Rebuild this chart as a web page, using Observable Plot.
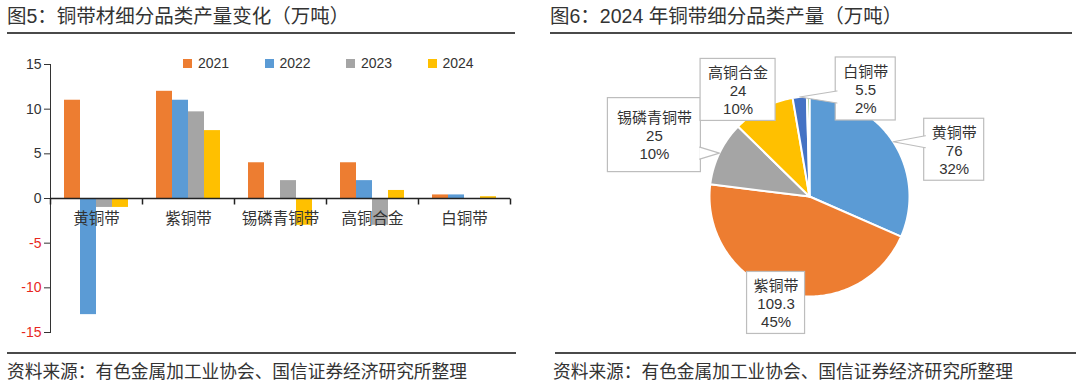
<!DOCTYPE html>
<html>
<head>
<meta charset="utf-8">
<script src="https://cdn.jsdelivr.net/npm/d3@7"></script>
<script src="https://cdn.jsdelivr.net/npm/@observablehq/plot@0.6"></script>
<style>
  html, body { margin: 0; padding: 0; background: #fff; }
  body { width: 1080px; height: 390px; position: relative; overflow: hidden;
         font-family: "Liberation Sans", "Noto Sans CJK SC", sans-serif; color: #333; }
  .title { position: absolute; top: 5px; font-size: 19.5px; line-height: 22px; color: #333;
           font-family: "Liberation Sans", "Noto Sans CJK SC", sans-serif; white-space: nowrap; }
  .rule { position: absolute; height: 2px; background: #4a4a4a; }
  .source { position: absolute; top: 361px; font-size: 17.7px; line-height: 22px; color: #333; white-space: nowrap; }
  .chart { position: absolute; }
  .legend { position: absolute; top: 55px; left: 183px; display: flex; font-size: 14px; color: #333; }
  .legend .item { width: 81.5px; display: flex; align-items: center; }
  .legend .sw { width: 9px; height: 9px; margin-right: 6px; }
</style>
</head>
<body>
<div class="title" style="left:7px">图5：铜带材细分品类产量变化（万吨）</div>
<div class="rule" style="left:7px; width:508px; top:32px"></div>
<div class="title" style="left:550px">图6：2024 年铜带细分品类产量（万吨）</div>
<div class="rule" style="left:550px; width:522px; top:32px"></div>

<div id="bar" class="chart" style="left:0px; top:40px"></div>
<div id="legend" class="legend"></div>
<div id="pie" class="chart" style="left:540px; top:40px"></div>

<div class="rule" style="left:7px; width:509px; top:352px"></div>
<div class="rule" style="left:555px; width:521px; top:352px"></div>
<div class="source" style="left:7px">资料来源：有色金属加工业协会、国信证券经济研究所整理</div>
<div class="source" style="left:553px">资料来源：有色金属加工业协会、国信证券经济研究所整理</div>

<script>
// ---------- Data: bar chart ----------
const categories = ["黄铜带", "紫铜带", "锡磷青铜带", "高铜合金", "白铜带"];
const years = ["2021", "2022", "2023", "2024"];
const v2021 = [11, 12, 4, 4, 0.4];
const v2022 = [-13, 11, 0, 2, 0.4];
const v2023 = [-1, 9.7, 2, -3, 0];
const v2024 = [-1, 7.6, -3, 0.9, 0.2];
const yTicks = [-15, -10, -5, 0, 5, 10, 15];
const barColors = ["#ED7D31", "#5B9BD5", "#A5A5A5", "#FFC000"];

// ---------- Data: pie chart ----------
const pieCats = ["黄铜带", "紫铜带", "锡磷青铜带", "高铜合金", "白铜带", "其他"];
const pieValues = [76, 109.3, 25, 24, 5.5, 1.0];
const pieColors = ["#5B9BD5", "#ED7D31", "#A5A5A5", "#FFC000", "#4472C4", "#70AD47"];
const pieLabelled = [true, true, true, true, true, false];

// ---------- Layout of the pie callouts (px offset from slice edge midpoint, box size) ----------
const calloutLayout = [
  {dx: 61, dy: 8, w: 60, h: 62},
  {dx: -7, dy: 10, w: 58, h: 62},
  {dx: -65, dy: -18, w: 93, h: 74},
  {dx: -25, dy: -18, w: 75, h: 62},
  {dx: 66, dy: -8, w: 60, h: 63}
];

const FONT = '"Liberation Sans", "Noto Sans CJK SC", sans-serif';
const NEG = "#e8281e";

// ---------- Bar chart ----------
const series = [v2021, v2022, v2023, v2024];
const rows = categories.flatMap((c, i) => years.map((yr, j) => ({cat: c, year: yr, value: series[j][i]})));
const tickDown = {draw(ctx) { ctx.moveTo(0, 0); ctx.lineTo(0, 6); }};

const bar = Plot.plot({
  width: 530, height: 305,
  marginLeft: 48, marginRight: 19, marginTop: 24, marginBottom: 13,
  style: {fontFamily: FONT, fontSize: "14px", color: "#333", background: "transparent", overflow: "visible"},
  fx: {domain: categories, padding: 0, axis: null},
  x: {domain: years, paddingInner: 0, paddingOuter: 0.72, axis: null},
  y: {domain: [-15, 15], ticks: yTicks, tickSize: 6, label: null, line: true, tickFormat: d => (d < 0 ? "-" + Math.abs(d) : String(d))},
  color: {domain: years, range: barColors},
  marks: [
    Plot.barY(rows, {fx: "cat", x: "year", y: "value", fill: "year"}),
    Plot.ruleY([0], {stroke: "#222", strokeWidth: 1.5}),
    Plot.dot(categories, {fx: d => d, y: () => 0, frameAnchor: "left", symbol: tickDown, stroke: "#222", strokeWidth: 1.5, fill: "none"}),
    Plot.dot(categories.slice(-1), {fx: d => d, y: () => 0, frameAnchor: "right", symbol: tickDown, stroke: "#222", strokeWidth: 1.5, fill: "none"}),
    Plot.text(categories, {fx: d => d, y: () => 0, text: d => d, dy: 21, fontSize: 15.5, fill: "#333"})
  ]
});
bar.querySelectorAll("text").forEach(t => {
  const s = t.textContent.trim().replace(/\u2212/g, "-");
  if (/^-\d+$/.test(s)) {
    t.setAttribute("fill", NEG);
    t.style.fill = NEG;
    t.querySelectorAll("tspan").forEach(ts => { ts.setAttribute("fill", NEG); ts.style.fill = NEG; });
  }
});
document.getElementById("bar").appendChild(bar);

// legend
const legend = document.getElementById("legend");
years.forEach((yr, j) => {
  const it = document.createElement("div");
  it.className = "item";
  it.innerHTML = `<span class="sw" style="background:${barColors[j]}"></span><span>${yr}</span>`;
  legend.appendChild(it);
});

// ---------- Pie chart ----------
const total = d3.sum(pieValues);
const arcs = d3.pie().sort(null).value(d => d)(pieValues);
const sliceMarks = arcs.map((a, i) => {
  const n = Math.max(2, Math.ceil((a.endAngle - a.startAngle) / (Math.PI / 180)));
  const pts = [[0, 0]];
  for (let k = 0; k <= n; k++) {
    const t = a.startAngle + (a.endAngle - a.startAngle) * k / n;
    pts.push([Math.sin(t), -Math.cos(t)]);
  }
  pts.push([0, 0]);
  return Plot.line(pts, {x: d => d[0], y: d => d[1], fill: pieColors[i], stroke: "white", strokeWidth: 2, strokeLinejoin: "round"});
});

const labels = [];
arcs.forEach((a, i) => {
  if (!pieLabelled[i]) return;
  const L = calloutLayout[labels.length];
  const mid = (a.startAngle + a.endAngle) / 2;
  const ax = Math.sin(mid), ay = -Math.cos(mid);
  const cx = ax + L.dx / 100, cy = ay + L.dy / 100;
  const box = {x1: cx - L.w / 200, x2: cx + L.w / 200, y1: cy - L.h / 200, y2: cy + L.h / 200};
  const pct = Math.round(pieValues[i] / total * 100) + "%";
  labels.push({cx, cy, ax, ay, box, text: `${pieCats[i]}\n${pieValues[i]}\n${pct}`});
});

function tailPoints(l) {
  const {ax, ay, box: b} = l;
  if (ax >= b.x1 && ax <= b.x2 && ay >= b.y1 && ay <= b.y2) return null;
  const hw = 0.06, inset = 0.012;
  const cx = (b.x1 + b.x2) / 2, cy = (b.y1 + b.y2) / 2, w = b.x2 - b.x1, h = b.y2 - b.y1;
  if (Math.abs(ax - cx) - w / 2 > Math.abs(ay - cy) - h / 2) {
    const x = ax < cx ? b.x1 + inset : b.x2 - inset;
    const yc = Math.max(b.y1 + hw + 0.03, Math.min(b.y2 - hw - 0.03, ay));
    return [[x, yc - hw], [ax, ay], [x, yc + hw]];
  } else {
    const y = ay < cy ? b.y1 + inset : b.y2 - inset;
    const xc = Math.max(b.x1 + hw + 0.03, Math.min(b.x2 - hw - 0.03, ax));
    return [[xc - hw, y], [ax, ay], [xc + hw, y]];
  }
}
const tailMarks = labels.map(l => tailPoints(l)).filter(p => p).map(p =>
  Plot.line(p, {x: d => d[0], y: d => d[1], fill: "white", stroke: "#bdbdbd", strokeWidth: 1.2})
);

const pie = Plot.plot({
  width: 540, height: 305,
  marginLeft: 169, marginRight: 171, marginTop: 56, marginBottom: 49,
  style: {fontFamily: FONT, fontSize: "15px", color: "#333", background: "transparent", overflow: "visible"},
  x: {domain: [-1, 1], axis: null},
  y: {domain: [-1, 1], reverse: true, axis: null},
  marks: [
    ...sliceMarks,
    Plot.rect(labels, {x1: d => d.box.x1, x2: d => d.box.x2, y1: d => d.box.y1, y2: d => d.box.y2, fill: "white", stroke: "#bdbdbd", strokeWidth: 1.2}),
    ...tailMarks,
    Plot.text(labels, {x: "cx", y: "cy", text: "text", fontSize: 15, lineHeight: 1.2, fill: "#333"})
  ]
});
document.getElementById("pie").appendChild(pie);
</script>
</body>
</html>
